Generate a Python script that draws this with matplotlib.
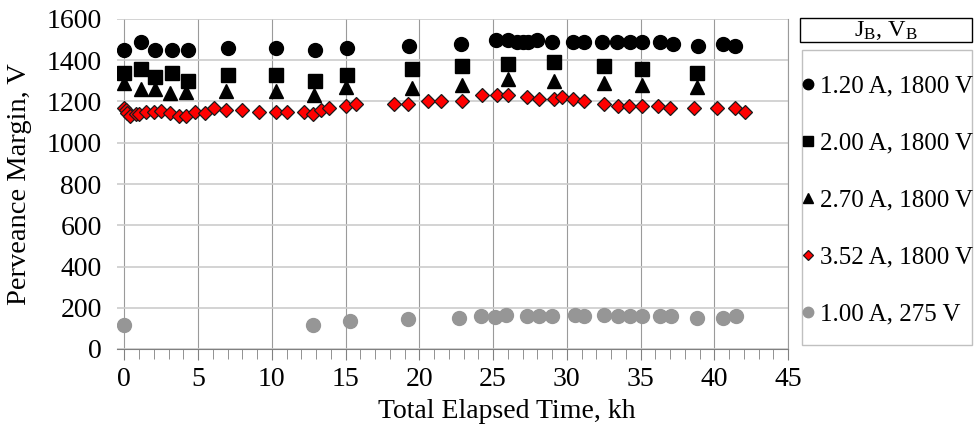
import numpy as np
import matplotlib
matplotlib.use('Agg')
import matplotlib.pyplot as plt
from matplotlib.patches import Rectangle
from matplotlib.ticker import MultipleLocator

plt.rcParams['font.family'] = ['Liberation Serif', 'DejaVu Serif']
plt.rcParams['mathtext.fontset'] = 'custom'
plt.rcParams['mathtext.rm'] = 'Liberation Serif'

# 1.20 A, 1800 V
t_a = [0, 1.1, 2.1, 3.2, 4.3, 7.0, 10.3, 12.9, 15.1, 19.3, 22.8, 25.2, 26.0, 26.6, 27.0,
       27.4, 28.0, 29.0, 30.4, 31.2, 32.4, 33.4, 34.3, 35.1, 36.3, 37.2, 38.9, 40.6, 41.4]
p_a = [1450, 1490, 1450, 1450, 1450, 1460, 1460, 1450, 1460, 1470, 1480, 1500, 1500, 1490, 1490,
       1490, 1500, 1490, 1490, 1490, 1490, 1490, 1490, 1490, 1490, 1480, 1470, 1480, 1470]
# 2.00 A, 1800 V
t_b = [0, 1.1, 2.1, 3.2, 4.3, 7.0, 10.3, 12.9, 15.1, 19.5, 22.9, 26.0, 29.1, 32.5, 35.1, 38.8]
p_b = [1340, 1360, 1320, 1340, 1300, 1330, 1330, 1300, 1330, 1360, 1370, 1380, 1390, 1370, 1360, 1340]
# 2.70 A, 1800 V
t_c = [0, 1.1, 2.1, 3.1, 4.2, 6.9, 10.3, 12.85, 15.05, 19.5, 22.9, 26.0, 29.1, 32.5, 35.1, 38.8]
p_c = [1290, 1260, 1260, 1240, 1245, 1250, 1250, 1230, 1270, 1265, 1280, 1310, 1300, 1290, 1280, 1270]
# 3.52 A, 1800 V
t_d = [0, 0.1, 0.2, 0.35, 0.8, 1.0, 1.5, 2.0, 2.5, 3.1, 3.7, 4.2, 4.8, 5.5, 6.1, 6.9, 8.0, 9.1,
       10.3, 11.0, 12.15, 12.8, 13.3, 13.85, 15.0, 15.7, 18.3, 19.2, 20.6, 21.5, 22.9, 24.25,
       25.3, 26.0, 27.3, 28.1, 29.1, 29.7, 30.4, 31.2, 32.5, 33.45, 34.2, 35.1, 36.2, 37.0,
       38.6, 40.2, 41.4, 42.1]
p_d = [1170, 1160, 1145, 1130, 1140, 1140, 1150, 1150, 1155, 1145, 1130, 1130, 1150, 1145, 1170,
       1160, 1160, 1150, 1150, 1150, 1150, 1140, 1160, 1170, 1180, 1190, 1190, 1190, 1200, 1200,
       1200, 1230, 1230, 1230, 1220, 1210, 1210, 1220, 1210, 1200, 1190, 1180, 1180, 1180, 1180,
       1170, 1170, 1170, 1170, 1150]
# 1.00 A, 275 V
t_e = [0, 12.8, 15.3, 19.2, 22.7, 24.2, 25.1, 25.9, 27.3, 28.1, 29.0, 30.55, 31.2, 32.5, 33.5,
       34.3, 35.1, 36.3, 37.1, 38.8, 40.6, 41.5]
p_e = [115, 115, 135, 145, 150, 160, 155, 165, 160, 160, 160, 165, 160, 165, 160,
       160, 160, 160, 160, 150, 150, 160]

labels = ['1.20 A, 1800 V', '2.00 A, 1800 V', '2.70 A, 1800 V', '3.52 A, 1800 V', '1.00 A, 275 V']

W, H = 974, 434
fig = plt.figure(figsize=(W / 100, H / 100), dpi=100)
ax = fig.add_axes([117 / W, 1 - 349 / H, (788 - 117) / W, (349 - 19) / H])

h = []
h += ax.plot(t_a, p_a, 'o', color='black', ms=10, mec='black', zorder=3)
h += ax.plot(t_b, p_b, 's', color='black', ms=9.5, mec='black', zorder=3)
h += ax.plot(t_c, p_c, '^', color='black', ms=10, mec='black', zorder=3)
h += ax.plot(t_d, p_d, 'D', color='#ff0000', ms=7.3, mec='#1a1a1a', mew=0.9, zorder=4)
h += ax.plot(t_e, p_e, 'o', color='#969696', ms=10, mec='#969696', zorder=3)

ax.set_xlim(-0.5, 45)
ax.set_ylim(0, 1600)
ax.xaxis.set_major_locator(MultipleLocator(5))
ax.xaxis.set_minor_locator(MultipleLocator(1))
ax.yaxis.set_major_locator(MultipleLocator(200))
ax.grid(axis='x', which='major', color='#9a9a9a', lw=0.8)
ax.grid(axis='y', which='major', color='#cccccc', lw=1.2)
ax.set_axisbelow(True)
for s in ['left', 'top']:
    ax.spines[s].set_visible(False)
ax.spines['right'].set_color('#9a9a9a')
ax.spines['bottom'].set_color('#808080')
ax.tick_params(axis='x', which='both', direction='out', color='#808080', labelsize=20, pad=5)
ax.tick_params(axis='x', which='major', length=8)
ax.tick_params(axis='x', which='minor', length=7)
ax.tick_params(axis='y', length=0, labelsize=20, pad=11)
ax.set_xlabel('Total Elapsed Time, kh', fontsize=20)
ax.set_ylabel('Perveance Margin, V', fontsize=20.5)
ax.xaxis.set_label_coords((507 - 117) / (788 - 117), -(399 - 349) / (349 - 19))
ax.yaxis.set_label_coords(-(117 - 32) / (788 - 117), 0.5)

# legend title box and entries box
fig.patches.append(Rectangle((800 / W, 1 - 42 / H), 172 / W, 24 / H, transform=fig.transFigure,
                             fill=False, edgecolor='black', lw=1))
fig.text(886 / W, 1 - 31 / H, r'$\mathrm{J_B}$, $\mathrm{V_B}$', ha='center', va='center', fontsize=17.5)
fig.patches.append(Rectangle((802 / W, 1 - 345 / H), 170 / W, 295 / H, transform=fig.transFigure,
                             fill=False, edgecolor='#c0c0c0', lw=1))
fig.legend(h, labels, loc='upper left', bbox_to_anchor=(802 / W, 1 - 75 / H), frameon=False,
           fontsize=18, handlelength=0.45, handletextpad=0.25, labelspacing=1.38, borderaxespad=0,
           borderpad=0, markerscale=0.75)

fig.savefig('out.png', dpi=100)
